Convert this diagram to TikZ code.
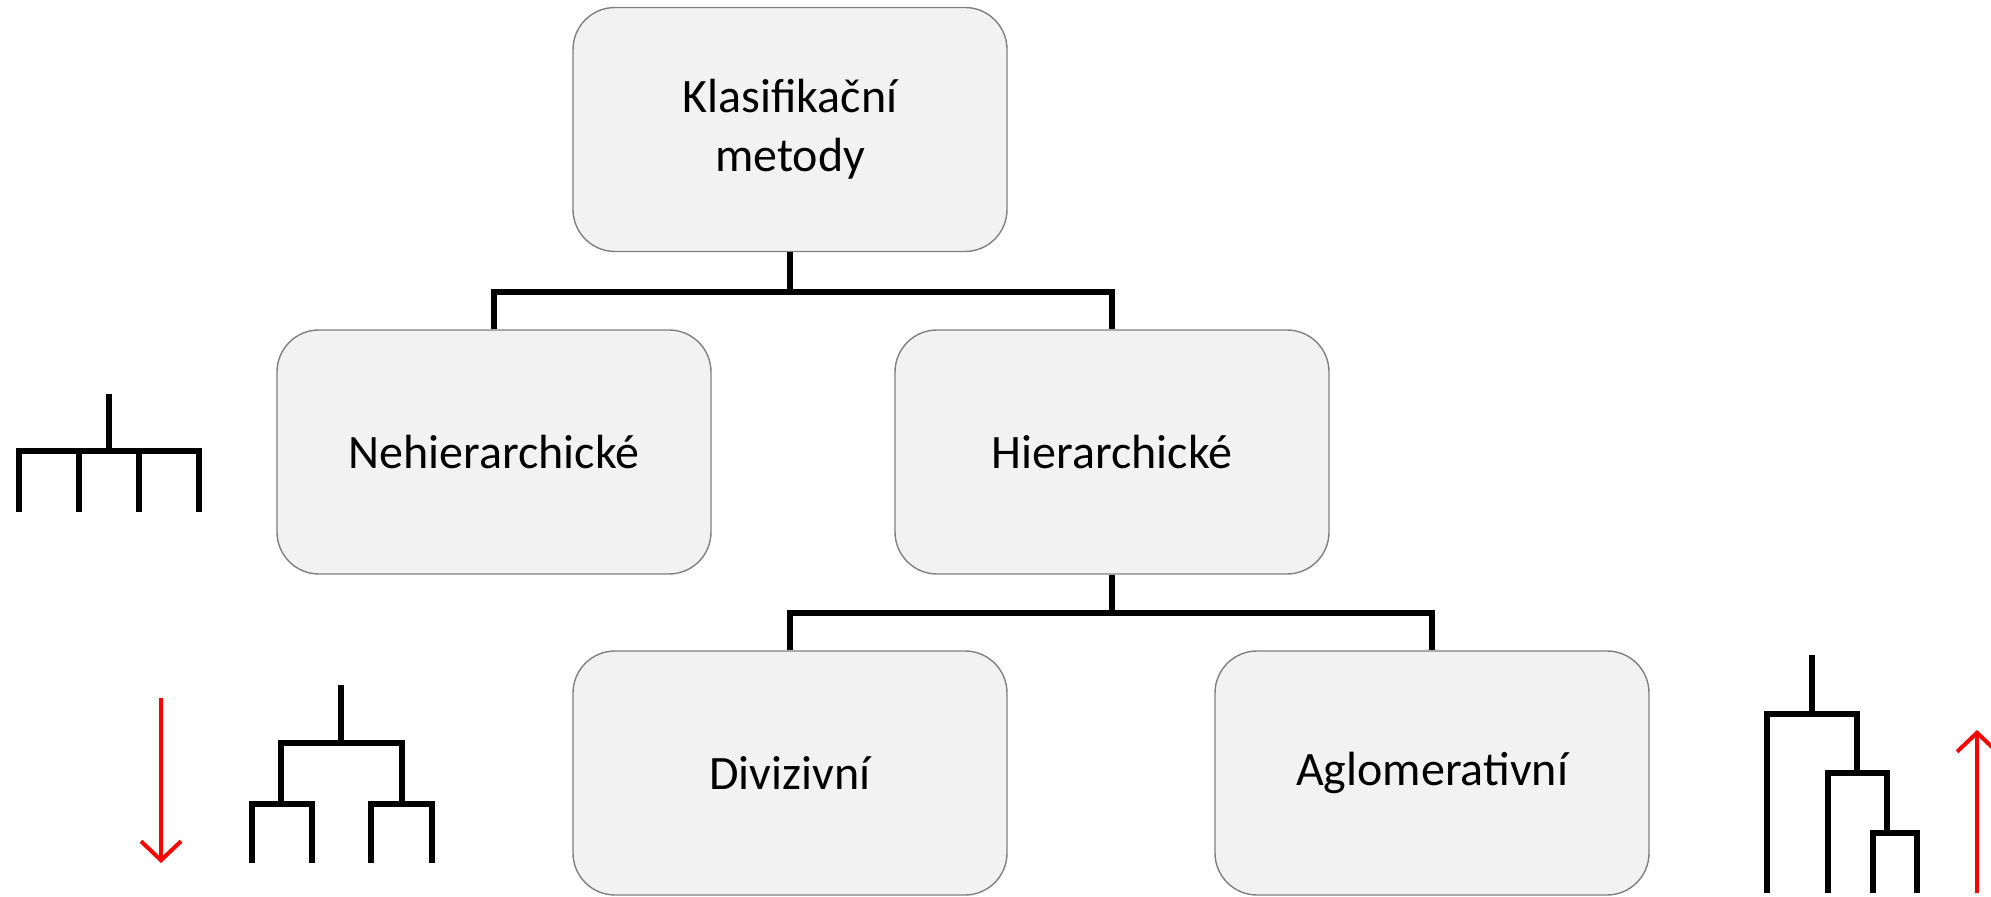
\documentclass[tikz,border=0pt]{standalone}
\usepackage{fontspec}
\setmainfont{Carlito}
\usetikzlibrary{arrows.meta}
\begin{document}
\begin{tikzpicture}[x=0.5pt,y=-0.5pt,
  box/.style={draw=black!50,line width=0.7pt,fill=black!5,rounded corners=21pt,
    minimum width=217pt,minimum height=122pt,align=center,inner sep=0pt,
    font=\fontsize{24}{29.5}\selectfont},
  conn/.style={line width=3.2pt,black},
  icon/.style={line width=3.2pt,black},
  redarr/.style={line width=2pt,red,-{Straight Barb[length=9.5pt,width=20pt,line width=2pt]}}]
\useasboundingbox (0,0) rectangle (1991,897);
% boxes
\node[box] (top) at (790,129.5) {Klasifikační\\metody};
\node[box] (neh) at (494,452) {Nehierarchické};
\node[box] (hier) at (1112,452) {Hierarchické};
\node[box] (div) at (790,773) {Divizivní};
\node[box] (agl) at (1432,773) {Aglomerativní};
% connectors
\coordinate (j1) at (790,292);
\coordinate (j2) at (1112,613);
\draw[conn] (top.south) -- (j1);
\draw[conn] (neh.north) |- (j1) -| (hier.north);
\draw[conn] (hier.south) -- (j2);
\draw[conn] (div.north) |- (j2) -| (agl.north);
% flat icon
\draw[icon] (109,394) -- (109,451);
\draw[icon] (19,512) -- (19,451) -- (199,451) -- (199,512);
\draw[icon] (79,451) -- (79,512);
\draw[icon] (139,451) -- (139,512);
% divisive icon
\draw[icon] (341,685) -- (341,743);
\draw[icon] (281,804) -- (281,743) -- (402,743) -- (402,804);
\draw[icon] (252,863) -- (252,804) -- (312,804) -- (312,863);
\draw[icon] (371,863) -- (371,804) -- (432,804) -- (432,863);
% agglomerative icon
\draw[icon] (1812,655) -- (1812,714);
\draw[icon] (1767,893) -- (1767,714) -- (1857,714) -- (1857,773);
\draw[icon] (1828,893) -- (1828,773) -- (1887,773) -- (1887,833);
\draw[icon] (1873,893) -- (1873,833) -- (1917,833) -- (1917,893);
% red arrows
\coordinate (d1) at (161,698);
\coordinate (d2) at (161,863);
\coordinate (u1) at (1977,893);
\coordinate (u2) at (1977,730);
\draw[redarr] (d1) -- (d2);
\draw[redarr] (u1) -- (u2);
\end{tikzpicture}
\end{document}
